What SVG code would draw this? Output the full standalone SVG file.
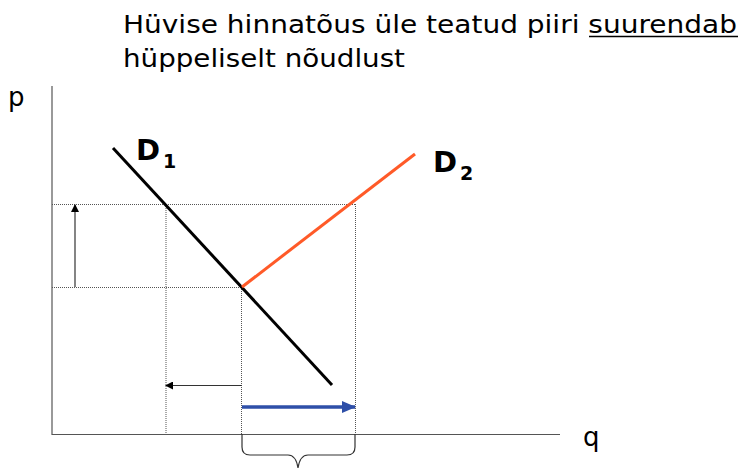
<svg xmlns="http://www.w3.org/2000/svg" width="741" height="473" viewBox="0 0 741 473">
<defs>
<style>
.t{font-family:"DejaVu Sans","Liberation Sans",sans-serif;fill:#000}
.ax{stroke:#555;stroke-width:1.2;fill:none}
.dot{stroke:#555;stroke-width:1;stroke-dasharray:1 1;fill:none}
.thin{stroke:#333;stroke-width:1.2;fill:none}
</style>
<marker id="ah" markerWidth="8" markerHeight="8" refX="7" refY="4" orient="auto" markerUnits="userSpaceOnUse">
<path d="M0,0 L8,4 L0,8 Z" fill="#000"/>
</marker>
<marker id="ab" markerWidth="14" markerHeight="12" refX="13" refY="6" orient="auto" markerUnits="userSpaceOnUse">
<path d="M0,0 L14,6 L0,12 Z" fill="#2e4fa8"/>
</marker>
</defs>
<rect width="741" height="473" fill="#fff"/>
<g id="title">
<text class="t" x="123" y="33" font-size="25" textLength="614" lengthAdjust="spacingAndGlyphs">Hüvise hinnatõus üle teatud piiri suurendab</text>
<line x1="589" y1="36.5" x2="738" y2="36.5" stroke="#000" stroke-width="1.5"/>
<text class="t" x="123" y="67" font-size="25" textLength="282" lengthAdjust="spacingAndGlyphs">hüppeliselt nõudlust</text>
</g>
<g id="axes">
<line class="ax" x1="52" y1="86" x2="52" y2="435"/>
<line class="ax" x1="52" y1="434.5" x2="560" y2="434.5"/>
<text class="t" x="8" y="106" font-size="26">p</text>
<text class="t" x="583" y="446" font-size="26">q</text>
</g>
<g id="guides">
<line class="dot" x1="52" y1="204.5" x2="356" y2="204.5"/>
<line class="dot" x1="52" y1="287.5" x2="242" y2="287.5"/>
<line class="dot" x1="166" y1="204" x2="166" y2="434"/>
<line class="dot" x1="241.5" y1="287" x2="241.5" y2="434"/>
<line class="dot" x1="355.5" y1="204" x2="355.5" y2="434"/>
</g>
<g id="D1">
<line x1="113" y1="148" x2="332" y2="385" stroke="#000" stroke-width="3"/>
<text class="t" x="136" y="160" font-size="29" font-weight="bold">D</text>
<text class="t" x="163" y="168" font-size="19" font-weight="bold">1</text>
</g>
<g id="D2">
<line x1="242" y1="287" x2="415" y2="154" stroke="#ff5a28" stroke-width="3"/>
<text class="t" x="433" y="172" font-size="29" font-weight="bold">D</text>
<text class="t" x="460" y="180" font-size="19" font-weight="bold">2</text>
</g>
<g id="connectors">
<line class="thin" x1="75" y1="287" x2="75" y2="205" marker-end="url(#ah)"/>
<line class="thin" x1="242" y1="385.5" x2="166" y2="385.5" marker-end="url(#ah)"/>
<line x1="242" y1="407" x2="355" y2="407" stroke="#2e4fa8" stroke-width="3.5" marker-end="url(#ab)"/>
<path d="M242,434 L242,447 Q242,455 250,455 L288,455 Q296,455 298,468 Q300,455 308,455 L347,455 Q355,455 355,447 L355,434" stroke="#333" stroke-width="1.2" fill="none"/>
</g>
</svg>
